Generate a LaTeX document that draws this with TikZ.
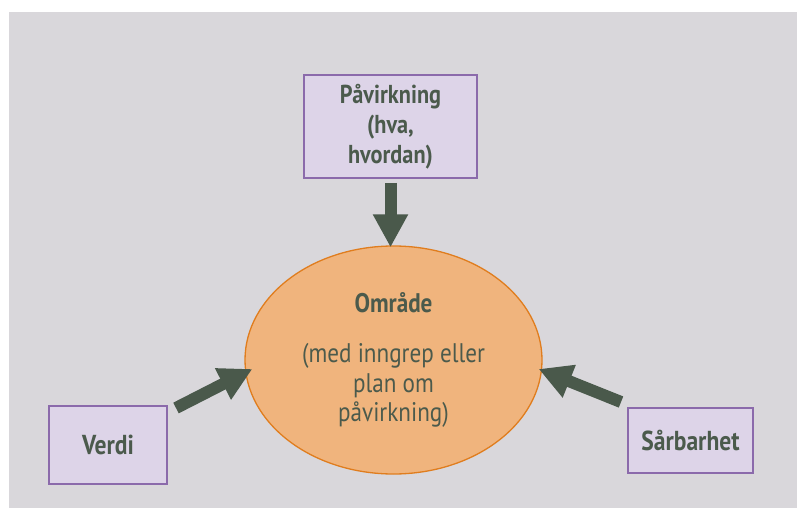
\documentclass[tikz,border=0pt]{standalone}
\usepackage{fontspec}
\setmainfont{PT Sans}[FakeStretch=0.86]
\usetikzlibrary{arrows.meta,shapes.geometric}
\definecolor{bg}{HTML}{D9D7DB}
\definecolor{boxfill}{HTML}{DDD4E8}
\definecolor{boxline}{HTML}{8B6AAB}
\definecolor{ellfill}{HTML}{F0B47D}
\definecolor{ellline}{HTML}{E07D1E}
\definecolor{txt}{HTML}{4B5A4C}
\definecolor{arr}{HTML}{4A594B}
\begin{document}
\begin{tikzpicture}[x=1bp,y=-1bp,
  box/.style={draw=boxline, fill=boxfill, line width=2bp, text=txt, align=center, inner sep=0pt},
  bigarrow/.style={draw=arr, line width=12bp, -{Triangle[width=33bp,length=33bp]}}]
\useasboundingbox (0,0) rectangle (797,508);
\fill[white] (0,0) rectangle (797,508);
\fill[bg] (9,12) rectangle (797,508);
\node[box, minimum width=173bp, minimum height=103bp, font=\bfseries\fontsize{26}{30}\selectfont] (pav) at (390.5,126.5) {Påvirkning\\(hva,\\hvordan)};
\node[box, minimum width=118bp, minimum height=78bp, font=\bfseries\fontsize{27.5}{30}\selectfont] (verdi) at (108,445) {Verdi};
\node[box, minimum width=125bp, minimum height=65bp, font=\bfseries\fontsize{27.5}{30}\selectfont] (sar) at (690.5,440.5) {Sårbarhet};
\node[ellipse, draw=ellline, fill=ellfill, line width=1.3bp, minimum width=297bp, minimum height=228bp, inner sep=0pt, text=txt, align=center, font=\fontsize{27}{29.5}\selectfont] (omr) at (393.5,360) {{\bfseries Område}\\[21bp](med inngrep eller\\plan om\\påvirkning)};
\draw[bigarrow] ([shift={(0,4)}]pav.south) -- ([shift={(0,2)}]pav.south |- omr.north);
\draw[bigarrow] ([shift={(8,3)}]verdi.north east) -- ([shift={(8,9)}]omr.west);
\draw[bigarrow] ([shift={(-6,-5)}]sar.north west) -- ([shift={(-4,9)}]omr.east);
\end{tikzpicture}
\end{document}
